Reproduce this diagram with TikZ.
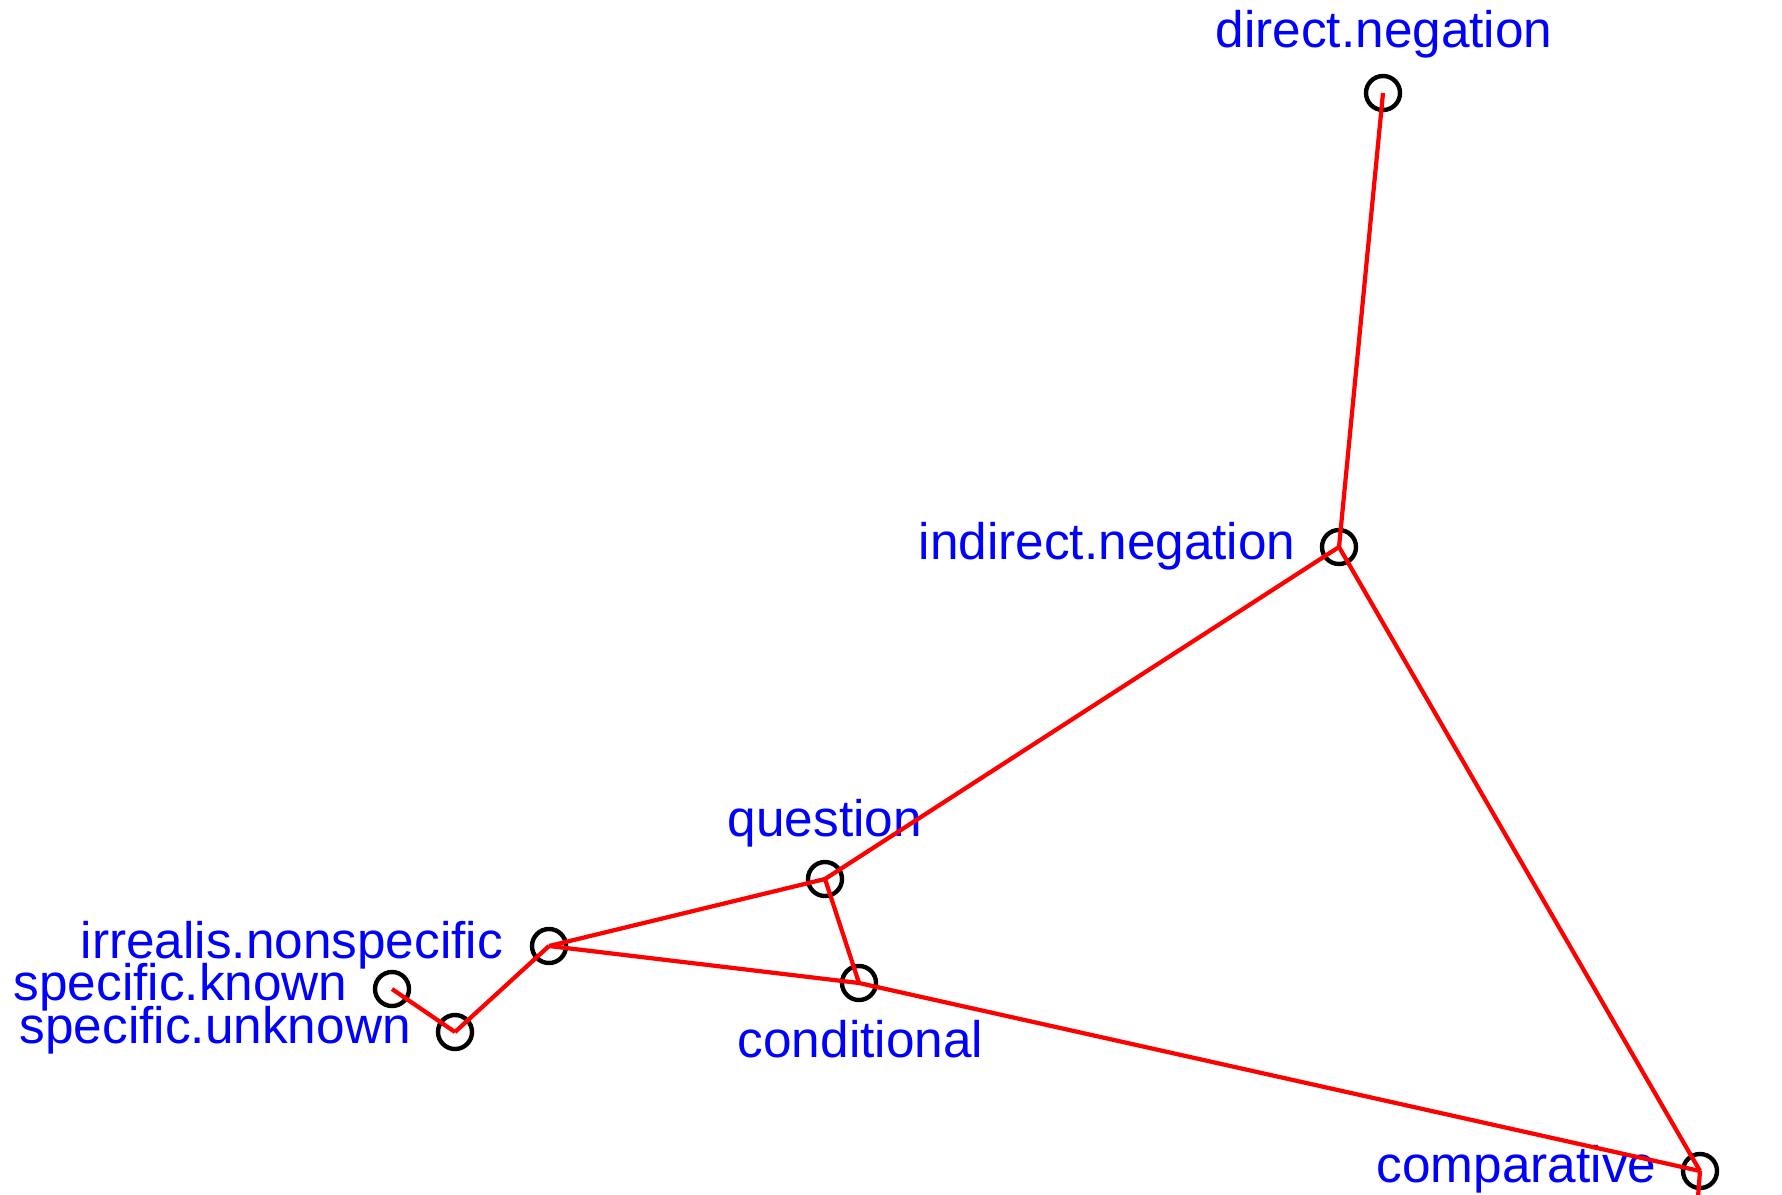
\documentclass[tikz,border=0pt]{standalone}
\usepackage{fontspec}
\setmainfont{Liberation Sans}
\definecolor{lblue}{RGB}{0,0,255}
\definecolor{lred}{RGB}{255,0,0}
\begin{document}
\begin{tikzpicture}[x=0.01cm,y=-0.01cm,
  vert/.style={circle,draw=black,line width=1.25pt,minimum size=0.34cm,inner sep=0pt},
  lab/.style={text=lblue,anchor=base west,inner sep=0pt,font=\fontsize{14.6}{17}\selectfont},
  edge/.style={draw=lred,line width=1.2pt}]
\clip (0,0) rectangle (1782,1194);
\fill[white] (0,0) rectangle (1782,1194);
% vertices
\node[vert] (dn) at (1383,93) {};
\node[vert] (in) at (1339,547) {};
\node[vert] (q) at (825,879) {};
\node[vert] (cond) at (859,983) {};
\node[vert] (irr) at (549,946) {};
\node[vert] (sk) at (392,989) {};
\node[vert] (su) at (455,1032) {};
\node[vert] (comp) at (1700,1171) {};
\coordinate (off) at (1697,1210);
% labels
\node[lab] (ldn) at (1215,48) {direct.negation};
\node[lab] (lin) at (918,559) {indirect.negation};
\node[lab] (lq) at (727,836) {question};
\node[lab] (lcond) at (737,1057) {conditional};
\node[lab] (lirr) at (80,958) {irrealis.nonspecific};
\node[lab] (lsk) at (13,1000) {specific.known};
\node[lab] (lsu) at (19,1043) {specific.unknown};
\node[lab] (lcomp) at (1376,1182) {comparative};
% edges
\draw[edge] (dn.center) -- (in.center);
\draw[edge] (in.center) -- (q.center);
\draw[edge] (in.center) -- (comp.center);
\draw[edge] (q.center) -- (irr.center);
\draw[edge] (q.center) -- (cond.center);
\draw[edge] (irr.center) -- (cond.center);
\draw[edge] (cond.center) -- (comp.center);
\draw[edge] (irr.center) -- (su.center);
\draw[edge] (sk.center) -- (su.center);
\draw[edge] (comp.center) -- (off);
\end{tikzpicture}
\end{document}
